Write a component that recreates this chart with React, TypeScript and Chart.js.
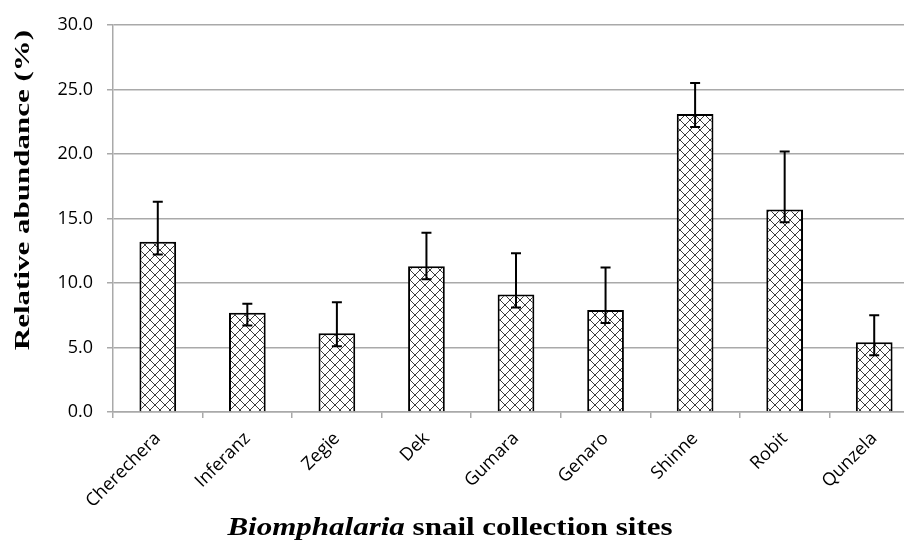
import React, { useEffect, useRef } from 'react';
import { Chart, registerables } from 'chart.js';

Chart.register(...registerables);

const categories = ['Cherechera', 'Inferanz', 'Zegie', 'Dek', 'Gumara', 'Genaro', 'Shinne', 'Robit', 'Qunzela'];
const abundance = [13.2, 7.7, 6.1, 11.3, 9.1, 7.9, 23.1, 15.7, 5.4];
const errorPlus = [3.1, 0.7, 2.4, 2.6, 3.2, 3.3, 2.4, 4.5, 2.1];
const errorMinus = [1.0, 1.0, 1.0, 1.0, 1.0, 1.0, 1.0, 1.0, 1.0];
const yTickValues = [0, 5, 10, 15, 20, 25, 30];
const yTitle = 'Relative abundance (%)';
const xTitleItalic = 'Biomphalaria';
const xTitleRest = ' snail collection sites';

const CANVAS_W = 930;
const CANVAS_H = 542;
const GRID = '#a9a9a9';
const TICK_FONT = "'Open Sans', sans-serif";
const SERIF = "'Liberation Serif', 'Times New Roman', serif";

function makePattern(): CanvasPattern | string {
  const c = document.createElement('canvas');
  c.width = 10;
  c.height = 10;
  const g = c.getContext('2d');
  if (!g) return '#ffffff';
  g.fillStyle = '#ffffff';
  g.fillRect(0, 0, 10, 10);
  g.strokeStyle = '#3c3c3c';
  g.lineWidth = 1;
  g.beginPath();
  g.moveTo(0, 0);
  g.lineTo(10, 10);
  g.moveTo(10, 0);
  g.lineTo(0, 10);
  g.stroke();
  return g.createPattern(c, 'repeat') || '#ffffff';
}

const errorBarPlugin = {
  id: 'errorBars',
  afterDatasetsDraw(chart: any) {
    const meta = chart.getDatasetMeta(0);
    const y = chart.scales.y;
    const ctx = chart.ctx;
    ctx.save();
    ctx.strokeStyle = '#000';
    ctx.lineWidth = 2;
    meta.data.forEach((bar: any, i: number) => {
      const v = abundance[i];
      const top = y.getPixelForValue(v + errorPlus[i]);
      const bot = y.getPixelForValue(v - errorMinus[i]);
      const x = bar.x;
      ctx.beginPath();
      ctx.moveTo(x, top);
      ctx.lineTo(x, bot);
      ctx.moveTo(x - 5, top);
      ctx.lineTo(x + 5, top);
      ctx.moveTo(x - 5, bot);
      ctx.lineTo(x + 5, bot);
      ctx.stroke();
    });
    ctx.restore();
  },
};

const titlesPlugin = {
  id: 'axisTitles',
  afterDraw(chart: any) {
    const ctx = chart.ctx;
    // x-axis title (mixed italic / bold)
    ctx.save();
    ctx.fillStyle = '#000';
    ctx.textBaseline = 'alphabetic';
    ctx.textAlign = 'left';
    const italicFont = `italic bold 31px ${SERIF}`;
    const boldFont = `bold 31px ${SERIF}`;
    ctx.font = italicFont;
    const w1 = ctx.measureText(xTitleItalic).width;
    ctx.font = boldFont;
    const w2 = ctx.measureText(xTitleRest).width;
    ctx.translate(450, 535);
    ctx.scale(1, 0.82);
    let x = -(w1 + w2) / 2;
    ctx.font = italicFont;
    ctx.fillText(xTitleItalic, x, 0);
    x += w1;
    ctx.font = boldFont;
    ctx.fillText(xTitleRest, x, 0);
    ctx.restore();

    // y-axis title
    ctx.save();
    ctx.fillStyle = '#000';
    ctx.textAlign = 'center';
    ctx.textBaseline = 'middle';
    ctx.font = `bold 31px ${SERIF}`;
    ctx.translate(24, 190);
    ctx.rotate(-Math.PI / 2);
    ctx.scale(1, 0.68);
    ctx.fillText(yTitle, 0, 0);
    ctx.restore();
  },
};

export default function App() {
  const ref = useRef<HTMLCanvasElement | null>(null);

  useEffect(() => {
    document.body.style.margin = '0';
    document.body.style.overflow = 'hidden';
    const canvas = ref.current;
    if (!canvas) return;
    const pattern = makePattern();
    const chart = new Chart(canvas, {
      type: 'bar',
      data: {
        labels: categories,
        datasets: [
          {
            data: abundance,
            backgroundColor: pattern as any,
            borderColor: '#000',
            borderWidth: 2,
            barPercentage: 0.41,
            categoryPercentage: 1,
          },
        ],
      },
      options: {
        animation: false,
        responsive: false,
        devicePixelRatio: 1,
        layout: { padding: { top: 25, right: CANVAS_W - 919, left: 0, bottom: 0 } },
        plugins: {
          legend: { display: false },
          tooltip: { enabled: false },
        },
        scales: {
          x: {
            grid: {
              offset: true,
              drawOnChartArea: false,
              drawTicks: true,
              tickLength: 6,
              color: GRID,
              lineWidth: 1.5,
            },
            border: { color: GRID, width: 1.5 },
            ticks: {
              maxRotation: 45,
              minRotation: 45,
              autoSkip: false,
              padding: 10,
              color: '#000',
              font: { family: TICK_FONT, size: 18 },
            },
            afterFit: (s: any) => {
              s.height = CANVAS_H - 412;
            },
          },
          y: {
            min: 0,
            max: 30,
            afterBuildTicks: (s: any) => {
              s.ticks = yTickValues.map((v) => ({ value: v }));
            },
            ticks: {
              padding: 14,
              color: '#000',
              font: { family: TICK_FONT, size: 18 },
              callback: (v: any) => Number(v).toFixed(1),
            },
            grid: { color: GRID, lineWidth: 1.5, tickLength: 6 },
            border: { color: GRID, width: 1.5 },
            afterFit: (s: any) => {
              s.width = 113;
            },
          },
        },
      },
      plugins: [errorBarPlugin, titlesPlugin],
    });
    return () => chart.destroy();
  }, []);

  return (
    <div style={{ width: 904, height: 542, overflow: 'hidden', position: 'relative', background: '#fff' }}>
      <canvas ref={ref} width={CANVAS_W} height={CANVAS_H} style={{ width: CANVAS_W, height: CANVAS_H, display: 'block' }} />
    </div>
  );
}
